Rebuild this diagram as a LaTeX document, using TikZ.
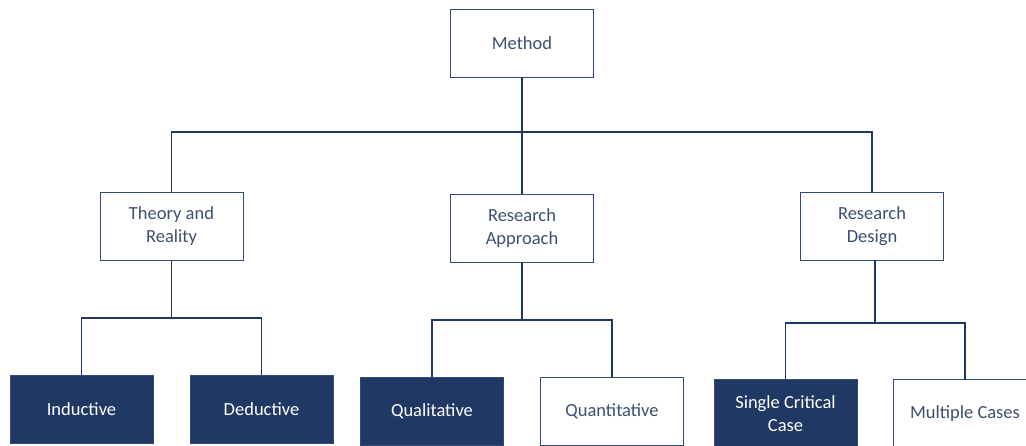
\documentclass[tikz,border=0pt]{standalone}
\usepackage{fontspec}
\setmainfont{Carlito}
\definecolor{navy}{RGB}{31,56,100}
\definecolor{boxline}{RGB}{50,74,120}
\definecolor{boxtext}{RGB}{62,80,112}
\tikzset{
  box/.style={draw=boxline, line width=0.9pt, fill=white, text=boxtext,
    minimum width=143pt, minimum height=68pt, align=center, inner sep=2pt,
    font=\fontsize{18.5}{23}\selectfont},
  darkbox/.style={box, fill=navy, draw=boxline, text=white},
  link/.style={draw=navy, line width=1.8pt}
}
\begin{document}
\begin{tikzpicture}[x=1pt, y=-1pt]
\clip (0,0) rectangle (1026,445);
\fill[white] (0,0) rectangle (1026,445);

% top level
\node[box] (method) at (522,43) {Method};

% second level
\node[box] (theory)   at (171.5,226.5) {Theory and\\Reality};
\node[box] (approach) at (522,228.5)   {Research\\Approach};
\node[box] (design)   at (872,226.5)   {Research\\Design};

% third level
\node[darkbox] (ind)   at (81.5,409.5)  {Inductive};
\node[darkbox] (ded)   at (261.5,409.5) {Deductive};
\node[darkbox] (qual)  at (432,411.5)   {Qualitative};
\node[box]     (quant) at (612,411.5)   {Quantitative};
\node[darkbox] (single) at (785.5,413.5) {Single Critical\\Case};
\node[box]     (multi) at (965,413.5)   {Multiple Cases};

% junctions
\coordinate (mj) at (522,132);
\coordinate (tj) at (171.5,318);
\coordinate (aj) at (522,320);
\coordinate (dj) at (875,323);

% connectors
\draw[link] (method.south) -- (mj);
\draw[link] (theory.north) |- (mj) -| (design.north);
\draw[link] (mj) -- (approach.north);

\draw[link] (theory.south) -- (tj);
\draw[link] (ind.north) |- (tj) -| (ded.north);

\draw[link] (approach.south) -- (aj);
\draw[link] (qual.north) |- (aj) -| (quant.north);

\draw[link] (design.south -| dj) -- (dj);
\draw[link] (single.north) |- (dj) -| (multi.north);
\end{tikzpicture}
\end{document}
